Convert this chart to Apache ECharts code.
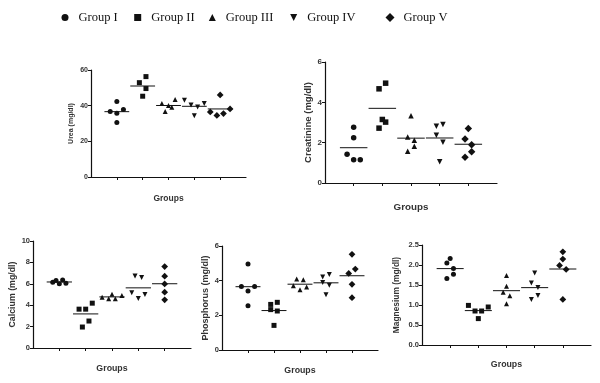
<!DOCTYPE html>
<html>
<head>
<meta charset="UTF-8">
<title>Serum biochemistry by group</title>
<script src="https://cdn.jsdelivr.net/npm/echarts@6/dist/echarts.min.js"></script>
<style>
  html, body { margin: 0; padding: 0; background: #fff; }
  #main { width: 600px; height: 383px; }
</style>
</head>
<body>
<div id="main"></div>
<script>
// groups and their markers
const groups = ['Group I', 'Group II', 'Group III', 'Group IV', 'Group V'];
const groupTicks = [1, 2, 3, 4, 5];

// values per group
const ureaValues = [
  [36.7, 42.3, 35.8, 37.8, 30.6],
  [52.9, 56.3, 49.6, 45.3],
  [41.2, 36.7, 40.1, 39.1, 43.4],
  [43.0, 40.4, 34.3, 39.3, 41.2],
  [36.5, 34.5, 46.0, 35.6, 38.2]
];
const creatinineValues = [
  [1.43, 2.77, 2.25, 1.15, 1.15],
  [4.67, 4.95, 3.15, 3.02, 2.72],
  [3.33, 2.28, 2.12, 1.82, 1.57],
  [2.82, 2.90, 2.37, 2.02, 1.05],
  [2.70, 2.18, 1.90, 1.55, 1.28]
];
const calciumValues = [
  [6.15, 6.30, 6.00, 6.35, 6.05],
  [3.63, 3.63, 4.19, 2.52, 1.96],
  [4.75, 4.60, 5.03, 4.60, 4.90],
  [6.74, 6.58, 5.16, 4.63, 5.00],
  [7.61, 6.71, 5.99, 5.22, 4.50]
];
const phosphorusValues = [
  [4.96, 3.67, 3.67, 3.40, 2.56],
  [2.63, 2.75, 2.33, 2.25, 1.42],
  [4.10, 4.06, 3.71, 3.48, 3.63],
  [4.21, 4.35, 3.90, 3.73, 3.19],
  [5.52, 4.67, 4.42, 3.79, 3.02]
];
const magnesiumValues = [
  [2.16, 2.05, 1.91, 1.66, 1.77],
  [0.99, 0.85, 0.85, 0.95, 0.66],
  [1.74, 1.47, 1.32, 1.23, 1.03],
  [1.80, 1.55, 1.44, 1.24, 1.14],
  [2.33, 2.15, 1.99, 1.89, 1.14]
];

// horizontal spread of the dots, in half-marker steps
const ureaJitter = [[-2, 0, 0, 2, 0], [-1, 1, 1, 0], [-2, -1, 0, 1, 2], [-3, -1, 0, 1, 3], [-3, -1, 0, 1, 3]];
const creatinineJitter = [[-2, 0, 0, 0, 2], [-1, 1, 0, 1, -1], [0, -1, 1, 1, -1], [-1, 1, -1, 1, 0], [0, -1, 1, 1, -1]];
const calciumJitter = [[-2, -1, 0, 1, 2], [-2, 0, 2, 1, -1], [-3, -1, 0, 1, 3], [-1, 1, -2, 0, 2], [0, 0, 0, 0, 0]];
const phosphorusJitter = [[0, -2, 2, 0, 0], [-1, 1, -1, 1, 0], [-1, 1, -2, 0, 2], [-1, 1, -1, 1, 0], [0, 1, -1, 0, 0]];
const magnesiumJitter = [[0, -1, 1, -1, 1], [-3, -1, 1, 3, 0], [0, 0, -1, 1, 0], [0, -1, 1, 1, -1], [0, 0, -1, 1, 0]];

const markers = ['circle', 'rect', 'triangle', 'path://M0,0L10,0L5,10Z', 'diamond'];
const markerScale = [1, 1, 1, 1, 1.35];   // diamonds drawn a bit larger

const panels = [
  { title: 'Urea (mg/dl)', values: ureaValues, jitter: ureaJitter, max: 60, interval: 20,
    grid: { left: 91, top: 70, width: 155, height: 107 }, labelSize: 7, nameSize: 7, nameGap: 16, xGap: 17, groupsSize: 8.5, sym: 5 },
  { title: 'Creatinine (mg/dl)', values: creatinineValues, jitter: creatinineJitter, max: 6, interval: 2,
    grid: { left: 325, top: 62, width: 172, height: 121 }, labelSize: 8, nameSize: 9.5, nameGap: 11, xGap: 19, groupsSize: 9.8, sym: 5.5 },
  { title: 'Calcium (mg/dl)', values: calciumValues, jitter: calciumJitter, max: 10, interval: 2,
    grid: { left: 33, top: 241, width: 158, height: 107 }, labelSize: 7.5, nameSize: 8.8, nameGap: 16, xGap: 16.5, groupsSize: 8.8, sym: 5 },
  { title: 'Phosphorus (mg/dl)', values: phosphorusValues, jitter: phosphorusJitter, max: 6, interval: 2,
    grid: { left: 222, top: 246, width: 156, height: 104 }, labelSize: 7.5, nameSize: 9, nameGap: 12, xGap: 16.5, groupsSize: 8.8, sym: 5 },
  { title: 'Magnesium (mg/dl)', values: magnesiumValues, jitter: magnesiumJitter, max: 2.5, interval: 0.5,
    grid: { left: 422, top: 245, width: 169, height: 100 }, labelSize: 7.5, nameSize: 8.4, nameGap: 21, xGap: 15.5, groupsSize: 8.8, sym: 5 }
];

const ink = '#111';
const grids = [], xAxes = [], yAxes = [], series = [];

panels.forEach(function (p, k) {
  grids.push(Object.assign({ containLabel: false }, p.grid));
  xAxes.push({
    gridIndex: k, type: 'value', min: 0, max: 6, interval: 1,
    name: 'Groups', nameLocation: 'middle', nameGap: p.xGap,
    nameTextStyle: { fontFamily: 'Liberation Sans', fontWeight: 'bold', fontSize: p.groupsSize, color: '#333' },
    axisLine: { lineStyle: { color: ink, width: 1.2 } },
    axisTick: { customValues: groupTicks, length: 3, lineStyle: { color: ink } },
    axisLabel: { show: false },
    splitLine: { show: false }
  });
  yAxes.push({
    gridIndex: k, type: 'value', min: 0, max: p.max, interval: p.interval,
    name: p.title, nameLocation: 'middle', nameRotate: 90, nameGap: p.nameGap,
    nameTextStyle: { fontFamily: 'Liberation Sans', fontWeight: 'bold', fontSize: p.nameSize, color: '#333' },
    axisLine: { show: true, lineStyle: { color: ink, width: 1.2 } },
    axisTick: { show: true, length: 3, lineStyle: { color: ink } },
    axisLabel: {
      margin: 3, fontFamily: 'Liberation Sans', fontWeight: 'bold', fontSize: p.labelSize, color: '#333',
      formatter: function (v) { return p.interval < 1 ? v.toFixed(1) : String(v); }
    },
    splitLine: { show: false }
  });
  p.values.forEach(function (vals, g) {
    const x = groupTicks[g];
    series.push({
      name: groups[g], type: 'scatter', xAxisIndex: k, yAxisIndex: k,
      symbol: markers[g], symbolSize: p.sym * markerScale[g],
      itemStyle: { color: ink, opacity: 1 },
      data: vals.map(function (v, i) {
        return { value: [x, v], symbolOffset: [p.jitter[g][i] * 3.3, 0] };
      }),
      z: 3
    });
    const mean = vals.reduce(function (a, b) { return a + b; }, 0) / vals.length;
    series.push({
      name: 'mean', type: 'line', xAxisIndex: k, yAxisIndex: k,
      symbol: 'none', silent: true,
      lineStyle: { color: ink, width: 1 },
      data: [[x - 0.48, mean], [x + 0.48, mean]],
      z: 2
    });
  });
});

// legend row along the top, one component per group
const legendCenters = [60, 132.7, 207.3, 288.7, 385];
const legends = groups.map(function (name, g) {
  const s = g === 4 ? 9 : 7;
  return {
    data: [{ name: name, icon: markers[g] }],
    left: legendCenters[g] - s / 2, top: 6,
    itemWidth: s, itemHeight: s,
    selectedMode: false,
    textStyle: { fontFamily: 'Liberation Serif', fontSize: 12.5, color: '#111', padding: [0, 0, 0, 5 - (s - 7) / 2] }
  };
});

const chart = echarts.init(document.getElementById('main'));
chart.setOption({
  animation: false,
  backgroundColor: '#fff',
  legend: legends,
  grid: grids,
  xAxis: xAxes,
  yAxis: yAxes,
  series: series
});
</script>
</body>
</html>
